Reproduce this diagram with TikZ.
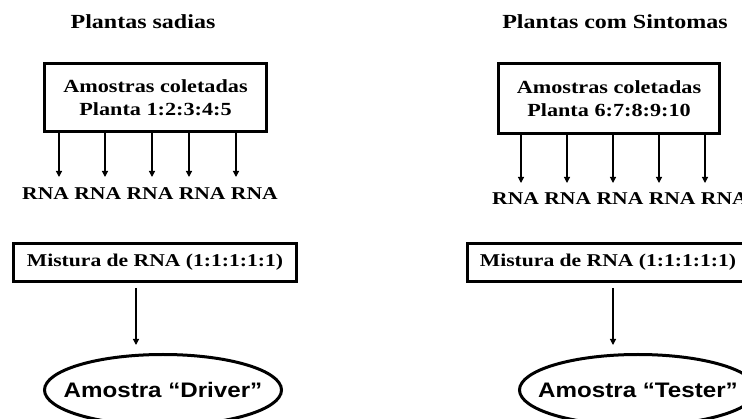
\documentclass[tikz,border=0pt]{standalone}
\usepackage{fontspec}
\setmainfont{Liberation Serif}[FakeStretch=1.2]
\newfontfamily\arialfont{Liberation Sans}[FakeStretch=1.15]
\usetikzlibrary{arrows.meta,shapes.geometric}
\begin{document}
\begin{tikzpicture}[x=1pt,y=-1pt,
  titlestyle/.style={font=\fontsize{20}{24}\selectfont\bfseries, inner sep=0pt},
  txt/.style={font=\fontsize{18}{22}\selectfont\bfseries, inner sep=0pt},
  boxstyle/.style={draw, line width=3pt, align=center, inner sep=0pt,
    font=\fontsize{18.5}{23}\selectfont\bfseries},
  arr/.style={line width=1.2pt, -{Triangle[length=6pt,width=6pt]}},
  oval/.style={ellipse, draw, line width=3pt, inner sep=0pt,
    minimum width=237pt, minimum height=71pt,
    font=\arialfont\fontsize{21}{24}\selectfont\bfseries}
]
\useasboundingbox (0,0) rectangle (742,419);
\clip (0,0) rectangle (742,419);

% titles
\node[titlestyle] (t1) at (143,22) {Plantas sadias};
\node[titlestyle] (t2) at (615,22) {Plantas com Sintomas};

% sample boxes
\node[boxstyle, minimum width=222pt, minimum height=68pt] (b1) at (155.5,97.5)
  {Amostras coletadas\\Planta 1:2:3:4:5};
\node[boxstyle, minimum width=221pt, minimum height=70pt] (b2) at (609,98.5)
  {Amostras coletadas\\Planta 6:7:8:9:10};

% RNA labels
\node[txt] (r1) at (150,194) {RNA RNA RNA RNA RNA};
\node[txt] (r2) at (620,199) {RNA RNA RNA RNA RNA};

% arrows to RNA
\foreach \x [count=\i] in {59,105,152,189,236} {
  \coordinate (la\i) at (\x,177);
  \draw[arr] (b1.south -| la\i) -- (la\i);
}
\foreach \x [count=\i] in {521,567,613,659,705} {
  \coordinate (ra\i) at (\x,183);
  \draw[arr] (b2.south -| ra\i) -- (ra\i);
}

% mixture boxes
\node[boxstyle, minimum width=283pt, minimum height=38pt] (m1) at (155,262.5)
  {\fontsize{18}{22}\selectfont Mistura de RNA (1:1:1:1:1)};
\node[boxstyle, minimum width=281pt, minimum height=38pt] (m2) at (608,262.5)
  {\fontsize{18}{22}\selectfont Mistura de RNA (1:1:1:1:1)};

% ellipses
\node[oval] (e1) at (163,390) {\makebox[0pt]{Amostra “Driver”}};
\node[oval] (e2) at (638,390) {\makebox[0pt]{Amostra “Tester”}};

% arrows to ellipses
\coordinate (lt) at (136,345);
\coordinate (rt) at (613,345);
\draw[arr] ([yshift=-5pt]m1.south -| lt) -- (lt);
\draw[arr] ([yshift=-5pt]m2.south -| rt) -- (rt);
\end{tikzpicture}
\end{document}
